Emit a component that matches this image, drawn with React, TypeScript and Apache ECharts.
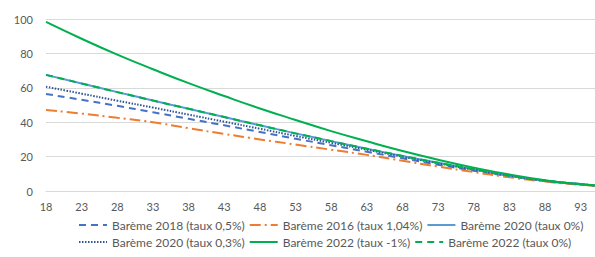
import React, { useEffect, useRef } from "react";
import * as echarts from "echarts";

const ages = [18, 23, 28, 33, 38, 43, 48, 53, 58, 63, 68, 73, 78, 83, 88, 93, 95];
const tickAges = [18, 23, 28, 33, 38, 43, 48, 53, 58, 63, 68, 73, 78, 83, 88, 93];
const yTicks = [0, 20, 40, 60, 80, 100];

const bareme2018 = [56.4, 53.0, 49.5, 45.8, 42.0, 38.2, 34.3, 30.4, 26.6, 22.8, 19.0, 15.3, 11.8, 8.6, 5.8, 3.8, 3.2];
const bareme2016 = [47.1, 45.0, 42.6, 40.0, 36.5, 33.2, 30.0, 27.0, 24.0, 21.0, 17.6, 14.2, 11.0, 8.0, 5.5, 3.6, 3.0];
const bareme2020_0 = [67.5, 62.5, 57.5, 52.6, 47.8, 43.0, 38.2, 33.5, 29.0, 24.6, 20.4, 16.4, 12.6, 8.9, 6.0, 4.0, 3.3];
const bareme2020_03 = [60.6, 56.6, 52.5, 48.5, 44.4, 40.3, 36.2, 32.0, 28.0, 24.0, 20.0, 16.1, 12.4, 8.9, 6.0, 3.9, 3.3];
const bareme2022_m1 = [98.3, 88.5, 79.3, 70.8, 62.7, 55.2, 48.0, 41.3, 34.8, 28.9, 23.3, 18.2, 13.6, 9.6, 6.3, 3.9, 3.2];
const bareme2022_0 = [67.5, 62.5, 57.5, 52.6, 47.8, 43.0, 38.2, 33.5, 29.0, 24.6, 20.4, 16.4, 12.6, 8.9, 6.0, 4.0, 3.3];

const names = [
  "Barème 2018 (taux 0,5%)",
  "Barème 2016 (taux 1,04%)",
  "Barème 2020 (taux 0%)",
  "Barème 2020 (taux 0,3%)",
  "Barème 2022 (taux -1%)",
  "Barème 2022 (taux 0%)",
];

const FONT = "Lato";
const TEXT = "#595959";

export default function App() {
  const ref = useRef<HTMLDivElement>(null);
  useEffect(() => {
    if (!ref.current) return;
    const chart = echarts.init(ref.current, undefined, { renderer: "svg" });
    const base = ages[0];
    const toPairs = (vals: number[]) => vals.map((v, i) => [ages[i] - base, v]);
    const mk = (name: string, vals: number[], color: string, type: any) => ({
      name,
      type: "line",
      data: toPairs(vals),
      smooth: true,
      symbol: "none",
      lineStyle: { color, width: 2, type },
      itemStyle: { color },
    });
    const legendCommon = {
      left: 78,
      padding: 0,
      itemWidth: 28,
      itemHeight: 10,
      itemGap: 4,
      itemStyle: { opacity: 0 },
      textStyle: { fontFamily: FONT, fontSize: 12, color: TEXT, width: 118, overflow: "none" },
    };
    chart.setOption({
      animation: false,
      grid: { left: 46, right: 0, top: 19, bottom: 66 },
      xAxis: {
        type: "value",
        min: 0,
        max: ages[ages.length - 1] - base,
        interval: tickAges[1] - tickAges[0],
        axisLine: { show: true, lineStyle: { color: "#D9D9D9" } },
        axisTick: { show: false },
        splitLine: { show: false },
        axisLabel: {
          showMaxLabel: false,
          formatter: (v: number) => String(v + base),
          fontFamily: FONT,
          fontSize: 11,
          color: TEXT,
          margin: 10,
        },
      },
      yAxis: {
        type: "value",
        min: yTicks[0],
        max: yTicks[yTicks.length - 1],
        interval: yTicks[1] - yTicks[0],
        axisLine: { show: false },
        axisTick: { show: false },
        splitLine: { lineStyle: { color: "#D9D9D9", width: 1 } },
        axisLabel: { fontFamily: FONT, fontSize: 11, color: TEXT, margin: 13 },
      },
      legend: [
        { ...legendCommon, top: 219, data: names.slice(0, 3) },
        { ...legendCommon, top: 236, data: names.slice(3, 6) },
      ],
      series: [
        mk(names[0], bareme2018, "#4472C4", [7, 5]),
        mk(names[1], bareme2016, "#ED7D31", [11, 4, 2, 4]),
        mk(names[2], bareme2020_0, "#5B9BD5", "solid"),
        mk(names[3], bareme2020_03, "#2F5597", [1.5, 1.5]),
        mk(names[4], bareme2022_m1, "#00B050", "solid"),
        mk(names[5], bareme2022_0, "#00B050", [7, 5]),
      ],
    });
    return () => chart.dispose();
  }, []);
  return <div ref={ref} style={{ width: 595, height: 257, position: "absolute", left: 0, top: 0 }} />;
}
